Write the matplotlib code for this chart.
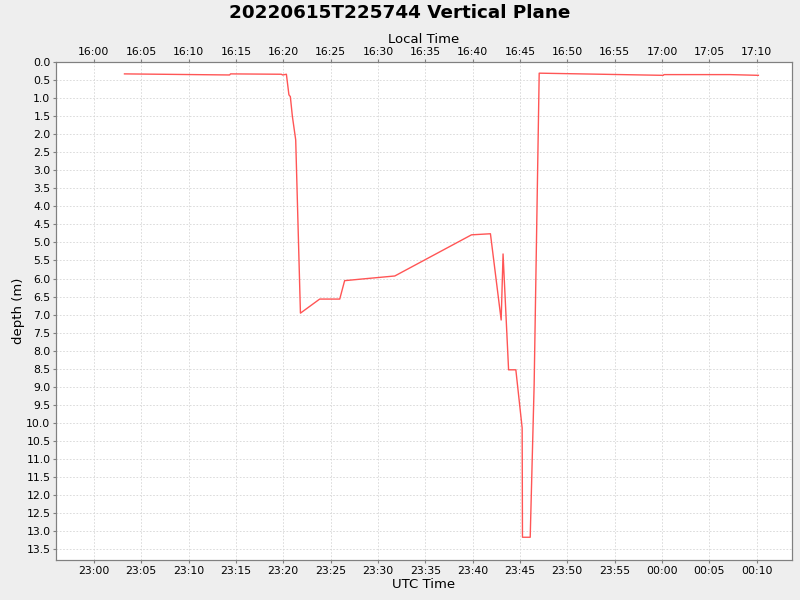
import datetime as dt
import matplotlib
matplotlib.use("Agg")
import matplotlib.pyplot as plt
import matplotlib.dates as mdates
import matplotlib.ticker as ticker

# UTC sample times (2022-06-15 .. 16) and depth in metres
times = ["23:03:14", "23:14:20", "23:14:26", "23:19:48", "23:19:56", "23:20:20",
         "23:20:36", "23:20:45", "23:20:58", "23:21:19", "23:21:49", "23:23:51",
         "23:25:58", "23:26:29", "23:28:05", "23:31:47", "23:39:53", "23:41:53",
         "23:43:01", "23:43:13", "23:43:48", "23:44:34", "23:45:14", "23:45:16",
         "23:46:05", "23:46:30", "23:47:02", "00:00:08", "00:00:13", "00:07:11",
         "00:10:11"]
depth = [0.33, 0.36, 0.33, 0.34, 0.36, 0.34,
         0.91, 0.96, 1.51, 2.16, 6.96, 6.57,
         6.57, 6.06, 6.02, 5.93, 4.79, 4.76,
         7.15, 5.32, 8.53, 8.53, 10.14, 13.17,
         13.17, 8.94, 0.31, 0.37, 0.35, 0.35,
         0.37]

title = "20220615T225744 Vertical Plane"
utc_offset_h = -7


def to_dt(s):
    d = dt.datetime.strptime("2022-06-15 " + s, "%Y-%m-%d %H:%M:%S")
    if d.hour < 12:
        d += dt.timedelta(days=1)
    return d


xs = [to_dt(t) for t in times]

fig = plt.figure(figsize=(8, 6), dpi=100, facecolor="#EEEEEE")
ax = fig.add_axes([0.07, 0.0667, 0.92, 0.83])
ax.set_facecolor("white")

ax.plot(xs, depth, color="#FF5555", lw=1.0)

ax.set_xlim(to_dt("22:56:00"), to_dt("00:13:44"))
ax.set_ylim(13.8, 0.0)

ax.yaxis.set_major_locator(ticker.MultipleLocator(0.5))
ax.yaxis.set_major_formatter(ticker.FormatStrFormatter("%.1f"))
ax.xaxis.set_major_locator(mdates.MinuteLocator(byminute=range(0, 60, 5)))
ax.xaxis.set_major_formatter(mdates.DateFormatter("%H:%M"))

ax.grid(True, color="#D6D6D6", ls=(0, (2, 2)), lw=0.6)
ax.set_xlabel("UTC Time", fontsize=9.5, labelpad=2)
ax.set_ylabel("depth (m)", fontsize=9.5, labelpad=1)

for sp in ax.spines.values():
    sp.set_color("#808080")
ax.tick_params(labelsize=7.8, colors="#808080", labelcolor="black", length=2, pad=2)

# local time axis on top
ax2 = ax.twiny()
ax2.set_xlim(ax.get_xlim())
ax2.xaxis.set_major_locator(mdates.MinuteLocator(byminute=range(0, 60, 5)))
ax2.xaxis.set_major_formatter(ticker.FuncFormatter(
    lambda v, pos: (mdates.num2date(v) + dt.timedelta(hours=utc_offset_h)).strftime("%H:%M")))
ax2.set_xlabel("Local Time", fontsize=9.5, labelpad=3)
ax2.tick_params(labelsize=7.8, colors="#808080", labelcolor="black", length=2, pad=1.5)
for sp in ax2.spines.values():
    sp.set_color("#808080")

fig.suptitle(title, fontsize=13.2, fontweight="bold", y=0.993)

fig.savefig("out.png", dpi=100, facecolor=fig.get_facecolor())
